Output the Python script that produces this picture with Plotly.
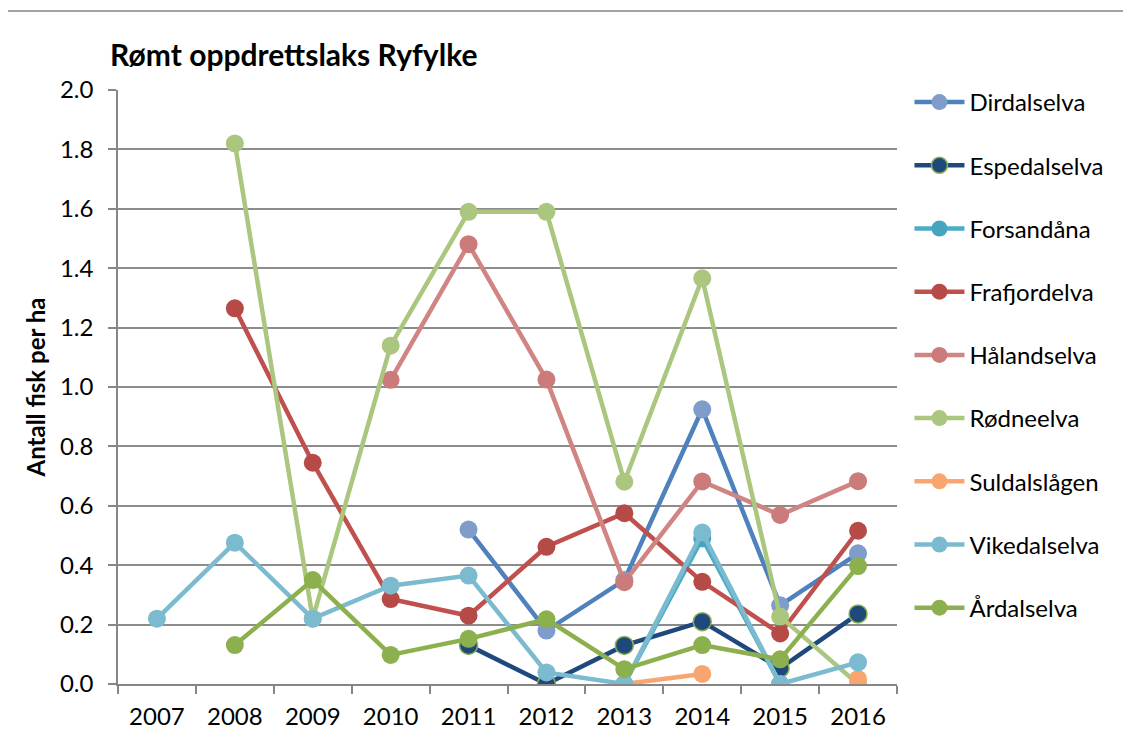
import plotly.graph_objects as go

years = ["2007", "2008", "2009", "2010", "2011", "2012", "2013", "2014", "2015", "2016"]

dirdalselva   = [None, None, None, None, 0.52, 0.18, 0.35, 0.925, 0.265, 0.44]
espedalselva  = [None, None, None, None, 0.13, 0.0, 0.13, 0.21, 0.053, 0.236]
forsandaana   = [None, None, None, None, None, None, 0.0, 0.49, 0.0, None]
frafjordelva  = [None, 1.265, 0.745, 0.286, 0.23, 0.462, 0.575, 0.344, 0.17, 0.516]
haalandselva  = [None, None, None, 1.024, 1.481, 1.025, 0.343, 0.682, 0.569, 0.683]
rodneelva     = [None, 1.82, 0.22, 1.139, 1.59, 1.59, 0.681, 1.366, 0.227, 0.0]
suldalslaagen = [None, None, None, None, None, None, 0.0, 0.034, None, 0.017]
vikedalselva  = [0.22, 0.476, 0.22, 0.331, 0.365, 0.039, 0.0, 0.51, 0.0, 0.073]
aardalselva   = [None, 0.131, 0.35, 0.098, 0.152, 0.218, 0.05, 0.131, 0.083, 0.397]

series = [
    ("Dirdalselva", dirdalselva, "#4F81BD", "#7F9CCB", None),
    ("Espedalselva", espedalselva, "#1F497D", "#1F497D", "#8DB04F"),
    ("Forsandåna", forsandaana, "#4BACC6", "#45A5BF", None),
    ("Frafjordelva", frafjordelva, "#C0504D", "#B54A46", None),
    ("Hålandselva", haalandselva, "#D08583", "#CB7B7A", None),
    ("Rødneelva", rodneelva, "#ABC67F", "#ABC67F", None),
    ("Suldalslågen", suldalslaagen, "#F9A56F", "#F9A56F", None),
    ("Vikedalselva", vikedalselva, "#7BBACF", "#7BBACF", None),
    ("Årdalselva", aardalselva, "#8DB04F", "#8DB04F", None),
]

fig = go.Figure()
for i, (name, vals, lc, mc, outline) in enumerate(series):
    fig.add_trace(go.Scatter(
        x=years, y=vals, name=name, mode="lines+markers",
        legendgroup=f"g{i}",
        line=dict(color=lc, width=4.5),
        marker=dict(size=18, color=mc,
                    line=dict(color=outline if outline else mc, width=1.5 if outline else 0)),
        connectgaps=False,
    ))

font_family = "Lato, 'Open Sans', sans-serif"

# page body has an 8px offset; plot area on screen: x 118..897, y 90..684
fig.update_layout(
    width=1131, height=741,
    paper_bgcolor="white", plot_bgcolor="white",
    margin=dict(l=110, r=242, t=82, b=65),
    font=dict(family=font_family, size=24, color="#000000"),
    title=dict(text="<b>Rømt oppdrettslaks Ryfylke</b>", x=102 / 1131, xanchor="left",
               y=1 - 47 / 741, yanchor="middle", font=dict(size=30, family=font_family)),
    showlegend=True,
    legend=dict(x=1.016, xanchor="left", y=0.0909, yanchor="bottom",
                font=dict(size=24, family=font_family), tracegroupgap=29,
                itemwidth=50, bgcolor="rgba(0,0,0,0)"),
    xaxis=dict(type="category", range=[-0.5, 9.5], showgrid=False,
               showline=True, linecolor="#868686", linewidth=1.5,
               ticks="outside", ticklen=8, tickcolor="#868686", tickwidth=1.5,
               tickson="boundaries", tickfont=dict(size=24), ticklabelstandoff=10),
    yaxis=dict(range=[0, 2.0], dtick=0.2, tickformat=".1f",
               showgrid=True, gridcolor="#8C8C8C", gridwidth=1.5,
               showline=True, linecolor="#868686", linewidth=1.5,
               ticks="outside", ticklen=8, tickcolor="#868686", tickwidth=1.5,
               zeroline=False, tickfont=dict(size=24), ticklabelstandoff=10,
               title=dict(text="<b>Antall fisk per ha</b>", font=dict(size=24), standoff=8)),
)

# outer chart border (top and left visible)
fig.add_shape(type="rect", xref="paper", yref="paper",
              x0=(7 - 118) / 779, x1=(1140 - 118) / 779,
              y0=(684 - 760) / 594, y1=(684 - 11) / 594,
              line=dict(color="#868686", width=1.5), fillcolor="rgba(0,0,0,0)", layer="below")

fig.write_html("out.html")
